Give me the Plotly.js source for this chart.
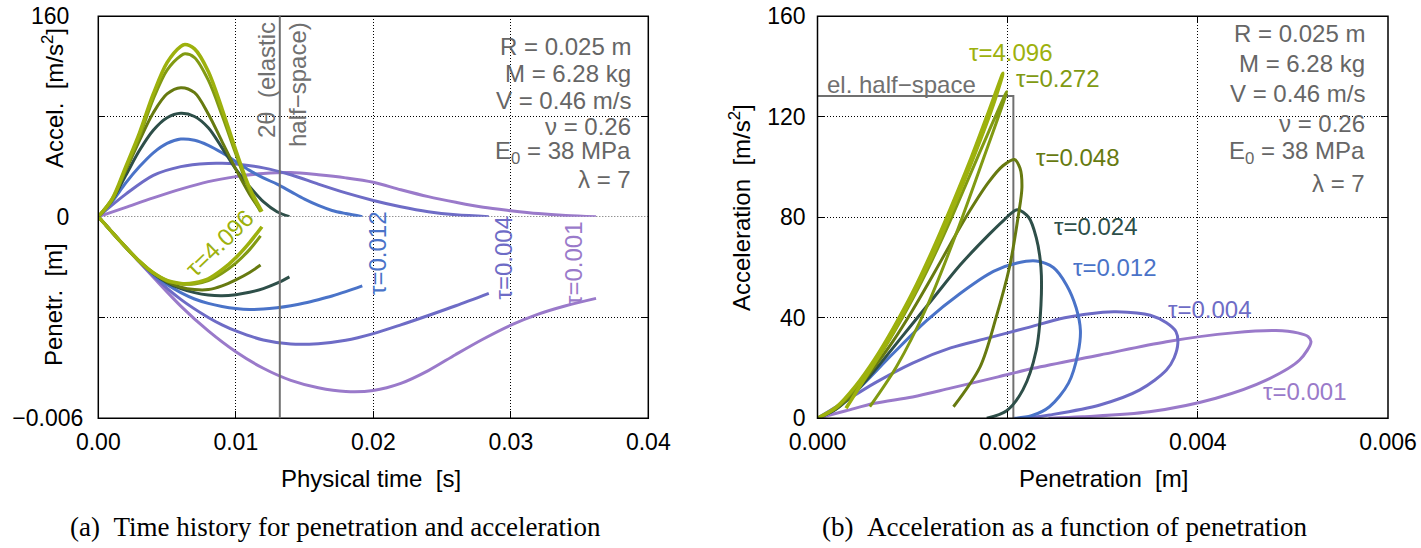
<!DOCTYPE html>
<html><head><meta charset="utf-8">
<script src="https://cdn.plot.ly/plotly-3.0.1.min.js"></script>
<style>body{margin:0;background:#fff}</style>
</head><body><div id="chart" style="width:1421px;height:548px"></div>
<script>
// ---------- DATA ----------
const tauLabels = ['4.096','0.272','0.048','0.024','0.012','0.004','0.001'];
const twoThetaElastic = 0.0132;           // s, elastic half-space contact time
const elasticP = [0, 0.00206, 0.00206];   // m
const elasticA = [128.3, 128.3, 0];       // m/s^2

// (a) time histories: time [s], acceleration [m/s^2], penetration [m]
const t_4096 = [0,0.001,0.002,0.003,0.004,0.005,0.006,0.0063,0.007,0.008,0.009,0.010,0.011,0.0119];
const a_4096 = [0,14,40,67,98,123,136,137.5,134,116,86,53,23,4];
const p_4096 = [0,-0.00046,-0.00091,-0.00133,-0.00167,-0.0019,-0.00199,-0.002,-0.00197,-0.00185,-0.00158,-0.00122,-0.00077,-0.0003];

const t_0272 = [0,0.001,0.002,0.003,0.004,0.005,0.006,0.0063,0.007,0.008,0.009,0.010,0.011,0.0118];
const a_0272 = [0,13,38,64,94,117,128.5,130,127,109,81,50,21,4];
const p_0272 = [0,-0.00046,-0.00091,-0.00133,-0.00167,-0.0019,-0.002,-0.00201,-0.002,-0.0019,-0.00168,-0.00138,-0.00098,-0.00057];

const t_0048 = [0,0.001,0.002,0.003,0.004,0.005,0.006,0.007,0.008,0.009,0.010,0.011,0.0118];
const a_0048 = [0,14,37,61,83,98,103,99,82,60,38,18,5];
const p_0048 = [0,-0.00046,-0.00091,-0.00133,-0.00168,-0.00193,-0.0021,-0.00217,-0.00217,-0.00206,-0.00188,-0.00166,-0.00144];

const t_0024 = [0,0.001,0.002,0.003,0.004,0.005,0.006,0.007,0.008,0.009,0.010,0.011,0.012,0.013,0.0139];
const a_0024 = [0,13,33,53,69,79,82.5,80,71,55,38,24,12,4,0];
const p_0024 = [0,-0.00046,-0.00091,-0.00133,-0.00169,-0.00196,-0.00214,-0.00226,-0.00233,-0.00235,-0.00232,-0.00225,-0.00214,-0.00198,-0.00179];

const t_0012 = [0,0.001,0.002,0.003,0.004,0.005,0.006,0.007,0.008,0.009,0.010,0.011,0.012,0.013,0.014,0.015,0.016,0.017,0.018,0.0192];
const a_0012 = [0,12,27,40,51,58.5,62,61,57,51,44,37,31,26,20,14,9,5,2.5,0];
const p_0012 = [0,-0.00046,-0.00091,-0.00134,-0.00171,-0.00202,-0.00226,-0.00245,-0.00258,-0.00267,-0.00273,-0.00276,-0.00275,-0.00271,-0.00265,-0.00257,-0.00247,-0.00236,-0.00223,-0.00206];

const t_0004 = [0,0.002,0.004,0.006,0.008,0.009,0.010,0.012,0.014,0.016,0.018,0.020,0.022,0.024,0.026,0.0284];
const a_0004 = [0,18,33,40,42.5,42.6,42,39,33.5,26,19,13,8,4,1.5,0];
const p_0004 = [0,-0.00091,-0.00176,-0.00246,-0.003,-0.00322,-0.0034,-0.00367,-0.00379,-0.00378,-0.00368,-0.00348,-0.00322,-0.00294,-0.00265,-0.00228];

const t_0001 = [0,0.002,0.004,0.006,0.008,0.010,0.012,0.014,0.016,0.018,0.020,0.022,0.024,0.026,0.028,0.030,0.032,0.034,0.0362];
const a_0001 = [0,7.5,15,22,28,32,34.5,35.3,33.5,31,27.5,21.5,16,11.5,7.5,4.8,2.5,1,0];
const p_0001 = [0,-0.00091,-0.0018,-0.00266,-0.0034,-0.00402,-0.00451,-0.00487,-0.00509,-0.0052,-0.00517,-0.00496,-0.00458,-0.0041,-0.00364,-0.00323,-0.0029,-0.00265,-0.00243];

// (b) acceleration vs penetration: penetration [m], acceleration [m/s^2]
const rp_4096 = [0,0.0002,0.0004,0.0006,0.0008,0.001,0.0012,0.0014,0.0016,0.0018,0.00195,0.00185,0.0016,0.0012,0.0008,0.0005,0.0003];
const ra_4096 = [0,4.5,12.8,23.4,36,50,66,83.5,102,122,137.3,125,100,64,34.5,16,4];
const rp_0272 = [0,0.0002,0.0004,0.0006,0.0008,0.001,0.0012,0.0014,0.0016,0.0018,0.00199,0.00174,0.00146,0.00115,0.00083,0.00055];
const ra_0272 = [0,4.3,12,22,34,47.5,62.5,79,96.5,114,130,102.8,73.6,44.4,20.5,4.6];
const rp_0048 = [0,0.0002,0.0004,0.0006,0.0008,0.001,0.0012,0.0014,0.0016,0.0018,0.00195,0.00207,0.00213,0.00215,0.00211,0.00202,0.00188,0.00171,0.00143];
const ra_0048 = [0,4,11,20.5,31,43,56,69.5,82.5,94,100.5,103,99.5,92,80.2,60.3,40.4,20.5,4.6];
const rp_0024 = [0,0.0002,0.0004,0.0006,0.0009,0.0012,0.0015,0.0018,0.00195,0.0021,0.00222,0.0023,0.00235,0.00235,0.0023,0.00216,0.00199,0.00178];
const ra_0024 = [0,3.8,10.5,19,33,47,61,73,78.5,83,80,72,60,45,27,11.3,3,0];
const rp_0012 = [0,0.0002,0.0004,0.0008,0.00115,0.0015,0.00185,0.0021,0.0023,0.00248,0.00262,0.00272,0.002765,0.00274,0.00264,0.00244,0.00225,0.00207];
const ra_0012 = [0,3.8,10.5,26,39,49.7,58.5,61.8,62.6,60,53,44,35,26,14,4.6,1,0];
const rp_0004 = [0,0.0003,0.0006,0.001,0.0014,0.0018,0.0022,0.0026,0.003,0.00314,0.0035,0.00367,0.00377,0.00379,0.00375,0.00367,0.00339,0.00297,0.00244,0.0022];
const ra_0004 = [0,7,14,22,28,32,36,40,42.2,42.4,41,38,34.5,30,24,19.2,11.3,5.3,1.3,0];
const rp_0001 = [0,0.0003,0.0006,0.001,0.0014,0.0019,0.00227,0.00297,0.00367,0.00437,0.00482,0.00505,0.00516,0.00519,0.00507,0.00472,0.00419,0.00349,0.00279,0.00243];
const ra_0001 = [0,3,6,8.5,12,16.5,19.9,25.2,30.5,34,34.9,34,32.5,30.5,23.2,15.2,8,2.6,0.6,0];

const timeAxisTicks = [0,0.01,0.02,0.03,0.04];
const penAxisTicks = [0,0.002,0.004,0.006];
const accelTicksRight = [0,40,80,120,160];
const accelTicksLeft = [0,80,160];
const accelTickTextLeft = ['0',' ','160'];
const penTicksLeft = [-0.006,-0.003];
const penTickTextLeft = ['\u22120.006',' '];

// ---------- STYLE ----------
const colors = ['#9db10d','#819a12','#677a10','#2e4f49','#4a73c8','#6e6cc6','#9a7aca'];
const widths = [3.6,3,3,3,3,3,3];
const series = [
  [t_4096,a_4096,p_4096,rp_4096,ra_4096],
  [t_0272,a_0272,p_0272,rp_0272,ra_0272],
  [t_0048,a_0048,p_0048,rp_0048,ra_0048],
  [t_0024,a_0024,p_0024,rp_0024,ra_0024],
  [t_0012,a_0012,p_0012,rp_0012,ra_0012],
  [t_0004,a_0004,p_0004,rp_0004,ra_0004],
  [t_0001,a_0001,p_0001,rp_0001,ra_0001]
];

const W = 1421, H = 548;
const px = X => X / W, py = Y => 1 - Y / H;
const topY = 16.3, midY = 216.7, botY = 418.3;
const LX0 = 98.3, LX1 = 648.3, RX0 = 817.5, RX1 = 1388;
const GRAY = '#707070', TXT = '#666666';
const FS = 24, TICKFS = 23;

const traces = [];
traces.push({x: elasticP, y: elasticA, xaxis:'x2', yaxis:'y3', mode:'lines',
  line:{color:GRAY, width:2}, hoverinfo:'skip'});
for (let i = series.length - 1; i >= 0; i--) {
  const [t, a, p, rp, ra] = series[i];
  const ln = {color: colors[i], width: widths[i], shape:'spline', smoothing:0.9};
  traces.push({x:t, y:a, xaxis:'x', yaxis:'y', mode:'lines', line:ln, hoverinfo:'skip', name:'τ='+tauLabels[i]});
  traces.push({x:t, y:p, xaxis:'x', yaxis:'y2', mode:'lines', line:ln, hoverinfo:'skip', name:'τ='+tauLabels[i]});
  traces.push({x:rp, y:ra, xaxis:'x2', yaxis:'y3', mode:'lines', line:ln, hoverinfo:'skip', name:'τ='+tauLabels[i]});
}

const gridCommon = {showgrid:true, gridcolor:'#000', gridwidth:1, griddash:'1px,2px', zeroline:false,
  showline:false, ticks:'inside', ticklen:7, tickwidth:1, tickcolor:'#000',
  tickfont:{size:TICKFS, color:'#000'}};

function ann(text, X, Y, opt) {
  return Object.assign({text, x:px(X), y:py(Y), xref:'paper', yref:'paper', showarrow:false,
    xanchor:'center', yanchor:'middle', font:{size:FS, color:'#000'}}, opt || {});
}
const nb = '\u00a0';
const statsText = ['R = 0.025 m','M = 6.28 kg','V = 0.46 m/s','ν = 0.26','E<sub>0</sub> = 38 MPa','λ = 7'];
const statsLeftY = [46.7,73.3,100,126.7,153,180];
const statsRightY = [34,63.3,93.3,123.3,153,183.3];
const serif = {family:'Liberation Serif, Times New Roman, serif', size:27, color:'#000'};

const annotations = [
  ann('Physical time'+nb+nb+'[s]', 371, 478),
  ann('Penetration'+nb+nb+'[m]', 1103, 478),
  ann('Accel.'+nb+nb+'[m/s<sup>2</sup>]', 53, 98, {textangle:-90}),
  ann('Penetr.'+nb+nb+'[m]', 53, 305, {textangle:-90}),
  ann('Acceleration'+nb+nb+'[m/s<sup>2</sup>]', 740, 208, {textangle:-90}),
  ann('(a)'+nb+nb+'Time history for penetration and acceleration', 335, 527, {font:serif}),
  ann('(b)'+nb+nb+'Acceleration as a function of penetration', 1065, 527, {font:serif}),
  ann('2θ'+nb+nb+'(elastic', 266, 80, {textangle:-90, font:{size:FS, color:GRAY}}),
  ann('half\u2212space)', 297, 85, {textangle:-90, font:{size:FS, color:GRAY}}),
  ann('τ=4.096', 220, 243, {textangle:-44, font:{size:FS, color:colors[0]}}),
  ann('τ=0.012', 377, 253, {textangle:-90, font:{size:FS, color:colors[4]}}),
  ann('τ=0.004', 502.5, 258, {textangle:-90, font:{size:FS, color:colors[5]}}),
  ann('τ=0.001', 573, 263, {textangle:-90, font:{size:FS, color:colors[6]}}),
  ann('el. half\u2212space', 901, 84, {font:{size:FS, color:GRAY}}),
  ann('τ=4.096', 1011, 53, {font:{size:FS, color:colors[0]}}),
  ann('τ=0.272', 1058, 79, {font:{size:FS, color:colors[1]}}),
  ann('τ=0.048', 1078, 157.5, {font:{size:FS, color:colors[2]}}),
  ann('τ=0.024', 1096, 226, {font:{size:FS, color:colors[3]}}),
  ann('τ=0.012', 1115, 267.5, {font:{size:FS, color:colors[4]}}),
  ann('τ=0.004', 1210, 309, {font:{size:FS, color:colors[5]}}),
  ann('τ=0.001', 1305, 391, {font:{size:FS, color:colors[6]}})
];
statsText.forEach((s, i) => {
  annotations.push(ann(s, 633.3, statsLeftY[i], {xanchor:'right', font:{size:FS, color:TXT}}));
  annotations.push(ann(s, 1367, statsRightY[i], {xanchor:'right', font:{size:FS, color:TXT}}));
});

const shapes = [
  {type:'rect', xref:'paper', yref:'paper', x0:px(LX0), x1:px(LX1), y0:py(botY), y1:py(topY),
   line:{color:'#000', width:1.5}, layer:'above'},
  {type:'rect', xref:'paper', yref:'paper', x0:px(RX0), x1:px(RX1), y0:py(botY), y1:py(topY),
   line:{color:'#000', width:1.5}, layer:'above'},
  {type:'line', xref:'x domain', yref:'y', x0:0, x1:1, y0:0, y1:0,
   line:{color:'#000', width:1, dash:'1px,2px'}, layer:'below'},
  {type:'line', xref:'x', yref:'paper', x0:twoThetaElastic, x1:twoThetaElastic, y0:py(botY), y1:py(topY),
   line:{color:GRAY, width:2}, layer:'above'}
];

const layout = {
  width:W, height:H, margin:{l:0,r:0,t:0,b:0}, showlegend:false,
  paper_bgcolor:'#fff', plot_bgcolor:'rgba(0,0,0,0)',
  font:{family:'Liberation Sans, Arial, sans-serif', size:FS, color:'#000'},
  xaxis:Object.assign({}, gridCommon, {domain:[px(LX0), px(LX1)], anchor:'y2', range:[0,0.04],
    tickvals:timeAxisTicks, tickformat:'.2f', ticklabelstandoff:8}),
  xaxis3:Object.assign({}, gridCommon, {domain:[px(LX0), px(LX1)], anchor:'y', overlaying:'x', matches:'x',
    side:'top', range:[0,0.04], tickvals:timeAxisTicks, showticklabels:false, showgrid:false}),
  yaxis:Object.assign({}, gridCommon, {domain:[py(midY), py(topY)], anchor:'x', range:[0,160],
    tickvals:accelTicksLeft, ticktext:accelTickTextLeft, mirror:'ticks', ticklabelstandoff:28}),
  yaxis2:Object.assign({}, gridCommon, {domain:[py(botY), py(midY)], anchor:'x', range:[-0.006,0],
    tickvals:penTicksLeft, ticktext:penTickTextLeft, mirror:'ticks', ticklabelstandoff:14}),
  xaxis2:Object.assign({}, gridCommon, {domain:[px(RX0), px(RX1)], anchor:'y3', range:[0,0.006],
    tickvals:penAxisTicks, tickformat:'.3f', mirror:'ticks', ticklabelstandoff:8}),
  yaxis3:Object.assign({}, gridCommon, {domain:[py(botY), py(topY)], anchor:'x2', range:[0,160],
    tickvals:accelTicksRight, mirror:'ticks', ticklabelstandoff:11}),
  annotations, shapes
};

Plotly.newPlot('chart', traces, layout, {displayModeBar:false, staticPlot:true});
</script></body></html>
